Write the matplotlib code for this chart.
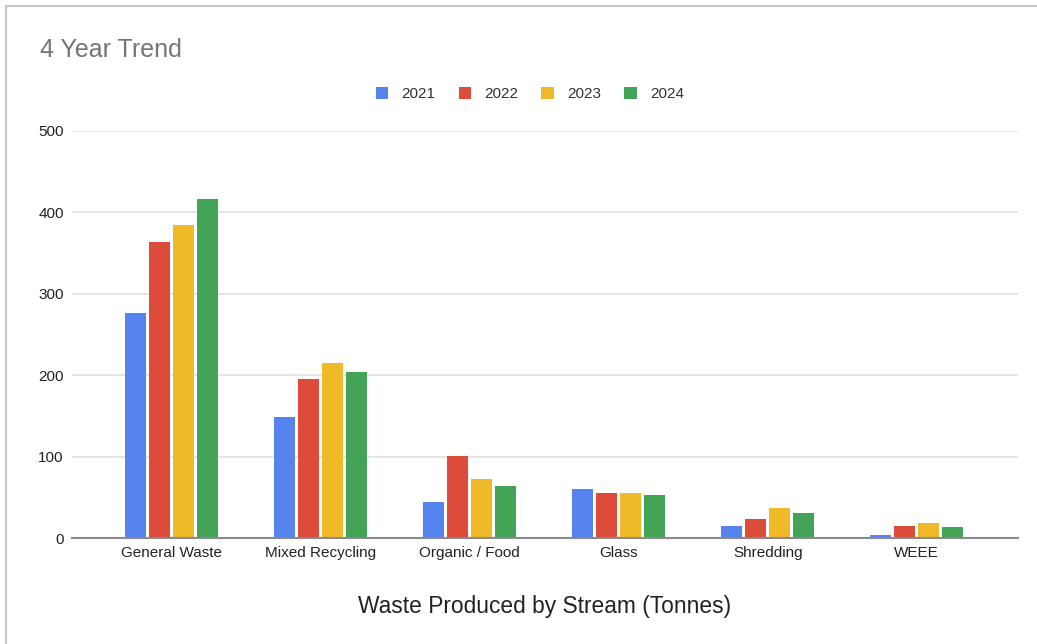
import numpy as np
import matplotlib.pyplot as plt
from matplotlib.patches import Patch, Rectangle

plt.rcParams['font.family'] = ['Liberation Sans', 'DejaVu Sans']

# --- data ---
categories = ['General Waste', 'Mixed Recycling', 'Organic / Food', 'Glass', 'Shredding', 'WEEE']
years = ['2021', '2022', '2023', '2024']
v2021 = [277, 149, 44, 60, 15, 4]
v2022 = [364, 195, 101, 55, 23, 15]
v2023 = [385, 215, 72, 55, 37, 18]
v2024 = [416, 204, 64, 53, 31, 13]
colors = ['#5684EE', '#DD4B3A', '#F0B928', '#43A457']
yticks = [0, 100, 200, 300, 400, 500]

series = [v2021, v2022, v2023, v2024]

fig = plt.figure(figsize=(10.37, 6.44), dpi=100)
W, H = 1037, 644
ax = fig.add_axes([72 / W, 1 - 538 / H, (1018 - 72) / W, (538 - 131) / H])

x = np.arange(len(categories))
slot = 0.161
bw = 0.141
for i, (vals, c) in enumerate(zip(series, colors)):
    ax.bar(x + (i - 1.5) * slot, vals, width=bw, color=c, zorder=3)

ax.set_xlim(-0.67, 5.68)
ax.set_ylim(0, 500)
ax.set_yticks(yticks)
ax.set_xticks(x)
ax.set_xticklabels(categories)
ax.tick_params(axis='both', length=0, labelsize=11, colors='#222222')
ax.tick_params(axis='y', pad=6)
ax.tick_params(axis='x', pad=6)
ax.grid(axis='y', color='#e0e0e0', linewidth=1.2, zorder=0)
for s in ['top', 'right', 'left']:
    ax.spines[s].set_visible(False)
ax.spines['bottom'].set_color('#8a8a8a')
ax.spines['bottom'].set_linewidth(1.5)
ax.spines['bottom'].set_zorder(4)

# タイトルと軸ラベル
fig.text(40 / W, 1 - 50 / H, '4 Year Trend', fontsize=18, color='#757575', ha='left', va='center')
fig.text(545 / W, 1 - 607 / H, 'Waste Produced by Stream (Tonnes)', fontsize=16.4,
         color='#222222', ha='center', va='center')

# 凡例
handles = [Patch(facecolor=c, edgecolor='none', label=y) for y, c in zip(years, colors)]
fig.legend(handles=handles, ncol=4, loc='center', bbox_to_anchor=(530 / W, 1 - 94 / H),
           frameon=False, fontsize=11, handlelength=0.8, handleheight=0.8,
           handletextpad=0.9, columnspacing=1.5, labelcolor='#333333')

# 外枠
fig.patches.append(Rectangle((6 / W, -0.1), 1.2, 1 - 6 / H + 0.1, transform=fig.transFigure,
                             fill=False, edgecolor='#c4c4c4', linewidth=1.5))

fig.savefig('out.png', dpi=100)
